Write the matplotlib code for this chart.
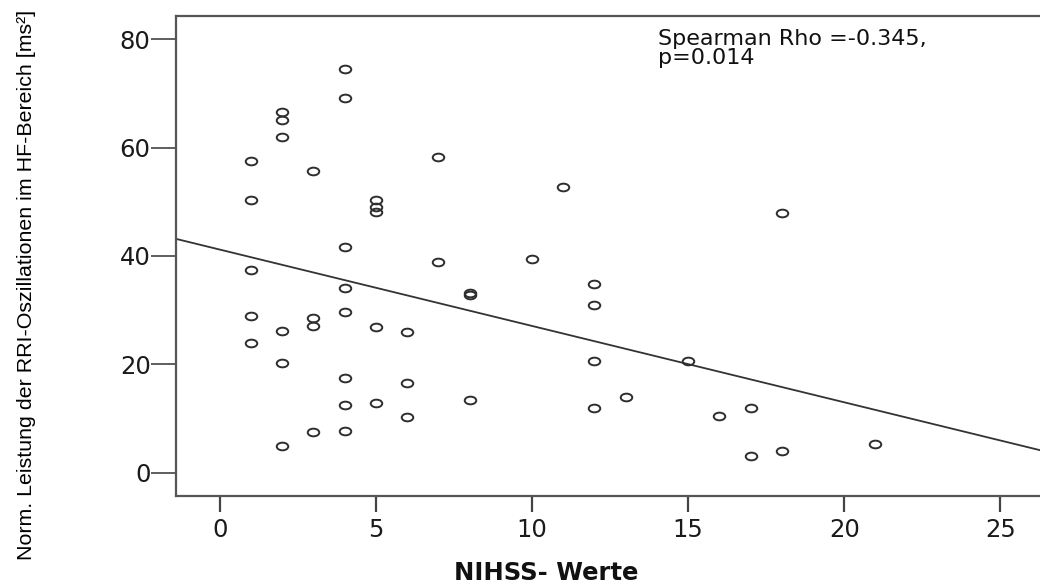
import numpy as np
import matplotlib
matplotlib.use("Agg")
import matplotlib.pyplot as plt
from matplotlib.path import Path
from matplotlib.markers import MarkerStyle

# ---- data ----
nihss = [1, 1, 1, 1, 1,
         2, 2, 2, 2, 2, 2,
         3, 3, 3, 3,
         4, 4, 4, 4, 4, 4, 4, 4,
         5, 5, 5, 5, 5,
         6, 6, 6,
         7, 7,
         8, 8, 8,
         10, 11,
         12, 12, 12, 12,
         13, 15, 16,
         17, 17,
         18, 18,
         21]
hf_power = [57.6, 50.3, 37.4, 28.9, 24.0,
            66.5, 65.1, 61.9, 26.2, 20.2, 4.9,
            55.7, 28.6, 27.1, 7.45,
            74.5, 69.2, 41.7, 34.1, 29.6, 17.5, 12.5, 7.7,
            50.4, 49.0, 48.1, 26.9, 12.9,
            26.0, 16.5, 10.3,
            58.2, 38.8,
            33.1, 32.7, 13.4,
            39.4, 52.8,
            34.8, 30.9, 20.7, 11.9,
            13.9, 20.7, 10.5,
            12.0, 3.1,
            48.0, 4.06,
            5.3]
fit_intercept = 41.17
fit_slope = -1.409
x_ticks = [0, 5, 10, 15, 20, 25]
y_ticks = [0, 20, 40, 60, 80]
x_label = "NIHSS- Werte"
y_label = "Norm. Leistung der RRI-Oszillationen im HF-Bereich [ms²]"
annotation = "Spearman Rho =-0.345,\np=0.014"

W, H = 1040, 584
fig = plt.figure(figsize=(W / 100, H / 100), dpi=100)
fig.patch.set_facecolor("white")

left_px, right_px, top_px, bottom_px = 175.7, 1040, 15.7, 496
ax = fig.add_axes([left_px / W, 1 - bottom_px / H,
                   (right_px - left_px) / W, (bottom_px - top_px) / H])
ax.set_xlim(-1.41, 26.27)
ax.set_ylim(-4.30, 84.32)

# ellipse marker (reference is horizontally stretched)
circ = Path.unit_circle()
ell = Path(circ.vertices * np.array([1.5, 1.0]), circ.codes)
ax.plot(nihss, hf_power, linestyle="none", marker=MarkerStyle(ell),
        markersize=8.3, markerfacecolor="none", markeredgecolor="#2e2e2e",
        markeredgewidth=1.4, zorder=3)

xl = np.array(ax.get_xlim())
ax.plot(xl, fit_intercept + fit_slope * xl, color="#333333", lw=1.3, zorder=2)

for s in ["left", "bottom", "top"]:
    ax.spines[s].set_color("#555555")
    ax.spines[s].set_linewidth(1.6)
ax.spines["right"].set_visible(False)

ax.set_xticks(x_ticks)
ax.set_yticks(y_ticks)
ax.tick_params(axis="y", length=18, width=1.1, color="#333333", pad=0,
               labelsize=17.5, labelcolor="#1a1a1a")
ax.tick_params(axis="x", length=11.5, width=1.6, color="#444444", pad=4,
               labelsize=17.5, labelcolor="#1a1a1a")
for lab in ax.get_xticklabels() + ax.get_yticklabels():
    lab.set_family("DejaVu Sans")

fig.text(27 / W, 1 - 284.5 / H, y_label, rotation=90, ha="center",
         va="center", family=["Liberation Sans", "DejaVu Sans"],
         fontsize=15.4, color="#000000")

fig.text(546 / W, 1 - 573 / H, x_label, ha="center", va="center",
         family="DejaVu Sans", fontweight="bold", fontsize=17.5,
         color="#111111")

fig.text(658 / W, 1 - 29 / H, annotation, ha="left", va="top",
         family="DejaVu Sans", fontsize=16, color="#111111",
         linespacing=0.95)

fig.savefig("out.png", dpi=100, facecolor="white")
